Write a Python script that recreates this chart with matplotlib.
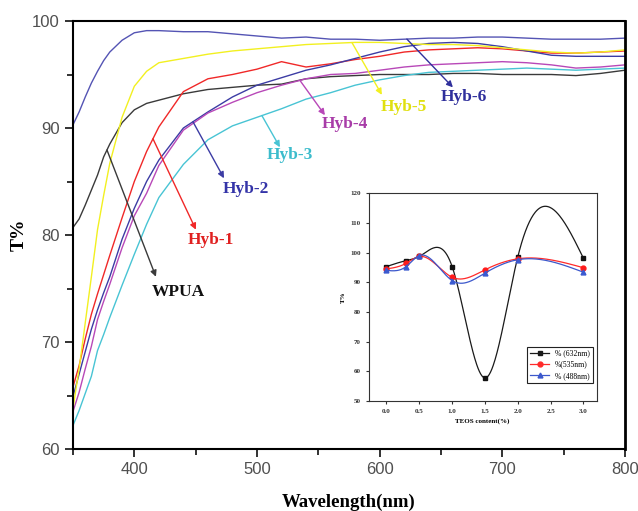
import numpy as np
import matplotlib
matplotlib.use("Agg")
import matplotlib.pyplot as plt
from matplotlib.ticker import MultipleLocator

# UV-vis transmittance spectra (T%) of WPUA and the hybrid films
wavelength = [350, 355, 360, 365, 370, 375, 380, 390, 400, 410, 420, 440, 460, 480, 500,
              520, 540, 560, 580, 600, 620, 640, 660, 680, 700, 720, 740, 760, 780, 800]
t_wpua = [80.7, 81.5, 82.8, 84.2, 85.6, 87.3, 88.5, 90.5, 91.7, 92.3, 92.6, 93.2, 93.6, 93.8, 94.0,
          94.1, 94.6, 94.8, 94.9, 95.0, 95.0, 95.0, 95.1, 95.1, 95.0, 95.0, 95.0, 94.9, 95.1, 95.4]
t_hyb1 = [65.8, 67.8, 70.3, 72.6, 74.5, 76.3, 78.1, 81.6, 85.0, 87.8, 90.1, 93.4, 94.6, 95.0, 95.5,
          96.2, 95.7, 96.0, 96.4, 96.7, 97.1, 97.3, 97.4, 97.5, 97.4, 97.2, 97.0, 97.0, 97.1, 97.2]
t_hyb2 = [64.9, 67.0, 69.1, 71.2, 73.0, 74.6, 76.1, 79.6, 82.5, 85.0, 87.0, 90.0, 91.5, 92.9, 94.0,
          94.7, 95.4, 95.9, 96.5, 97.1, 97.6, 97.9, 98.0, 97.9, 97.6, 97.2, 96.8, 96.7, 96.7, 96.7]
t_hyb3 = [62.2, 63.6, 65.2, 66.8, 69.2, 70.7, 72.3, 75.3, 78.2, 81.0, 83.5, 86.6, 88.9, 90.2, 91.0,
          91.8, 92.7, 93.3, 94.0, 94.5, 94.9, 95.2, 95.3, 95.4, 95.5, 95.6, 95.5, 95.4, 95.5, 95.6]
t_hyb4 = [63.5, 65.3, 67.5, 69.6, 72.1, 73.8, 75.4, 78.8, 81.8, 83.9, 86.5, 89.8, 91.4, 92.4, 93.3,
          94.0, 94.6, 95.0, 95.1, 95.4, 95.7, 95.9, 96.0, 96.1, 96.2, 96.1, 95.9, 95.6, 95.7, 95.9]
t_hyb5 = [63.8, 67.5, 71.8, 76.1, 80.5, 83.7, 86.7, 91.0, 93.9, 95.3, 96.1, 96.5, 96.9, 97.2, 97.4,
          97.6, 97.8, 97.9, 98.0, 98.0, 97.9, 97.8, 97.8, 97.7, 97.5, 97.3, 97.1, 97.0, 97.1, 97.3]
t_hyb6 = [90.3, 91.5, 92.9, 94.2, 95.3, 96.3, 97.1, 98.2, 98.9, 99.1, 99.1, 99.0, 99.0, 98.8, 98.6,
          98.4, 98.5, 98.3, 98.3, 98.2, 98.3, 98.4, 98.4, 98.5, 98.5, 98.4, 98.3, 98.3, 98.3, 98.4]

# inset: transmittance vs TEOS content at three wavelengths
teos = [0.0, 0.3, 0.5, 1.0, 1.5, 2.0, 3.0]
t_632 = [95.3, 97.3, 98.7, 95.3, 57.8, 98.5, 98.1]
t_535 = [94.5, 96.4, 98.7, 91.7, 94.2, 97.9, 94.9]
t_488 = [94.0, 95.3, 99.0, 90.6, 93.1, 97.6, 93.4]

# (label, data, line colour, text colour, arrow tail wl, arrow head, text pos)
curves = [
    ("WPUA", t_wpua, "#3a3a3a", "#111111", 377.7, (417.6, 76.1), (435.6, 74.7)),
    ("Hyb-1", t_hyb1, "#f02828", "#e02020", 415.2, (450.2, 80.5), (462.5, 79.5)),
    ("Hyb-2", t_hyb2, "#3c3ca4", "#3434a8", 447.8, (473.1, 85.3), (491.0, 84.3)),
    ("Hyb-3", t_hyb3, "#48c4d4", "#3cbccc", 504.0, (518.7, 88.2), (526.9, 87.5)),
    ("Hyb-4", t_hyb4, "#b848b8", "#a83ca8", 535.0, (555.4, 91.2), (571.7, 90.4)),
    ("Hyb-5", t_hyb5, "#f2f020", "#e0e010", 577.4, (601.8, 93.1), (619.8, 92.0)),
    ("Hyb-6", t_hyb6, "#5454b4", "#30309c", 622.2, (659.7, 93.8), (668.7, 92.9)),
]


def natural_spline(x, y, xs):
    x = np.asarray(x, float)
    y = np.asarray(y, float)
    n = len(x)
    h = np.diff(x)
    A = np.zeros((n, n))
    r = np.zeros(n)
    A[0, 0] = A[-1, -1] = 1
    for i in range(1, n - 1):
        A[i, i - 1] = h[i - 1]
        A[i, i] = 2 * (h[i - 1] + h[i])
        A[i, i + 1] = h[i]
        r[i] = 3 * ((y[i + 1] - y[i]) / h[i] - (y[i] - y[i - 1]) / h[i - 1])
    c = np.linalg.solve(A, r)
    b = (y[1:] - y[:-1]) / h - h * (2 * c[:-1] + c[1:]) / 3
    d = (c[1:] - c[:-1]) / (3 * h)
    idx = np.clip(np.searchsorted(x, xs) - 1, 0, n - 2)
    dx = xs - x[idx]
    return y[idx] + b[idx] * dx + c[idx] * dx ** 2 + d[idx] * dx ** 3


serif = ["Liberation Serif", "DejaVu Serif"]
sans = ["Liberation Sans", "DejaVu Sans"]

fig = plt.figure(figsize=(6.38, 5.11), dpi=100)
ax = fig.add_axes([0.1144, 0.1213, 0.8652, 0.8376])

for name, data, lc, tc, tail_wl, head, txt in curves:
    ax.plot(wavelength, data, color=lc, lw=1.0)
    tail = (tail_wl, np.interp(tail_wl, wavelength, data))
    ax.annotate("", xy=head, xytext=tail,
                arrowprops=dict(arrowstyle="-|>", color=lc if name != "Hyb-6" else tc,
                                lw=1.0, mutation_scale=9, shrinkA=0, shrinkB=0))
    ax.text(txt[0], txt[1], name, color=tc, fontsize=12.5, fontweight="bold",
            family=serif, ha="center", va="center")

ax.set_xlim(350, 800)
ax.set_ylim(60, 100)
ax.xaxis.set_major_locator(MultipleLocator(100))
ax.xaxis.set_minor_locator(MultipleLocator(50))
ax.yaxis.set_major_locator(MultipleLocator(10))
ax.yaxis.set_minor_locator(MultipleLocator(5))
ax.tick_params(which="both", direction="out", width=1.3, colors="#222222",
               labelsize=12, labelcolor="#505050")
ax.tick_params(which="major", length=6)
ax.tick_params(which="minor", length=4)
for lab in ax.get_xticklabels() + ax.get_yticklabels():
    lab.set_family(sans)
for side in ["left", "bottom", "top"]:
    ax.spines[side].set_linewidth(1.5)
ax.spines["right"].set_linewidth(2.0)
ax.set_xlabel("Wavelength(nm)", fontsize=13.5, fontweight="bold", family=serif, labelpad=12)
ax.set_ylabel("T%", fontsize=14, fontweight="bold", family=serif, labelpad=3)

# inset
ins = fig.add_axes([0.578, 0.215, 0.357, 0.407])
xs = np.linspace(teos[0], teos[-1], 300)
series = [(t_632, "#1a1a1a", "#111111", "s", "% (632nm)"),
          (t_535, "#ff2a2a", "#ff1a1a", "o", "%(535nm)"),
          (t_488, "#3c58cc", "#3a5ad0", "^", "% (488nm)")]
for data, lc, mc, mk, lab in series:
    ins.plot(xs, natural_spline(teos, data, xs), color=lc, lw=0.9)
    ins.plot(teos, data, ls="none", marker=mk, ms=3.5, color=mc)
    ins.plot([], [], color=lc, lw=0.9, marker=mk, ms=3.5, label=lab)

ins.set_xlim(-0.27, 3.2)
ins.set_ylim(50, 120)
ins.set_xticks([0.0, 0.5, 1.0, 1.5, 2.0, 2.5, 3.0])
ins.set_yticks(range(50, 121, 10))
ins.tick_params(direction="out", length=2.5, width=0.8, labelsize=5, colors="#333333")
for lab in ins.get_xticklabels() + ins.get_yticklabels():
    lab.set_family(serif)
    lab.set_fontweight("bold")
for sp in ins.spines.values():
    sp.set_linewidth(0.8)
    sp.set_color("#333333")
ins.set_xlabel("TEOS content(%)", fontsize=5, fontweight="bold", family=serif, labelpad=3)
ins.set_ylabel("T%", fontsize=5, fontweight="bold", family=serif, labelpad=3)
leg = ins.legend(loc="lower right", bbox_to_anchor=(1.0, 0.07),
                 prop={"family": serif, "size": 5.5}, fancybox=False, framealpha=1,
                 edgecolor="#222222", handlelength=2.4, borderpad=0.4, labelspacing=0.4)
leg.get_frame().set_linewidth(0.8)

fig.savefig("out.png", dpi=100)
